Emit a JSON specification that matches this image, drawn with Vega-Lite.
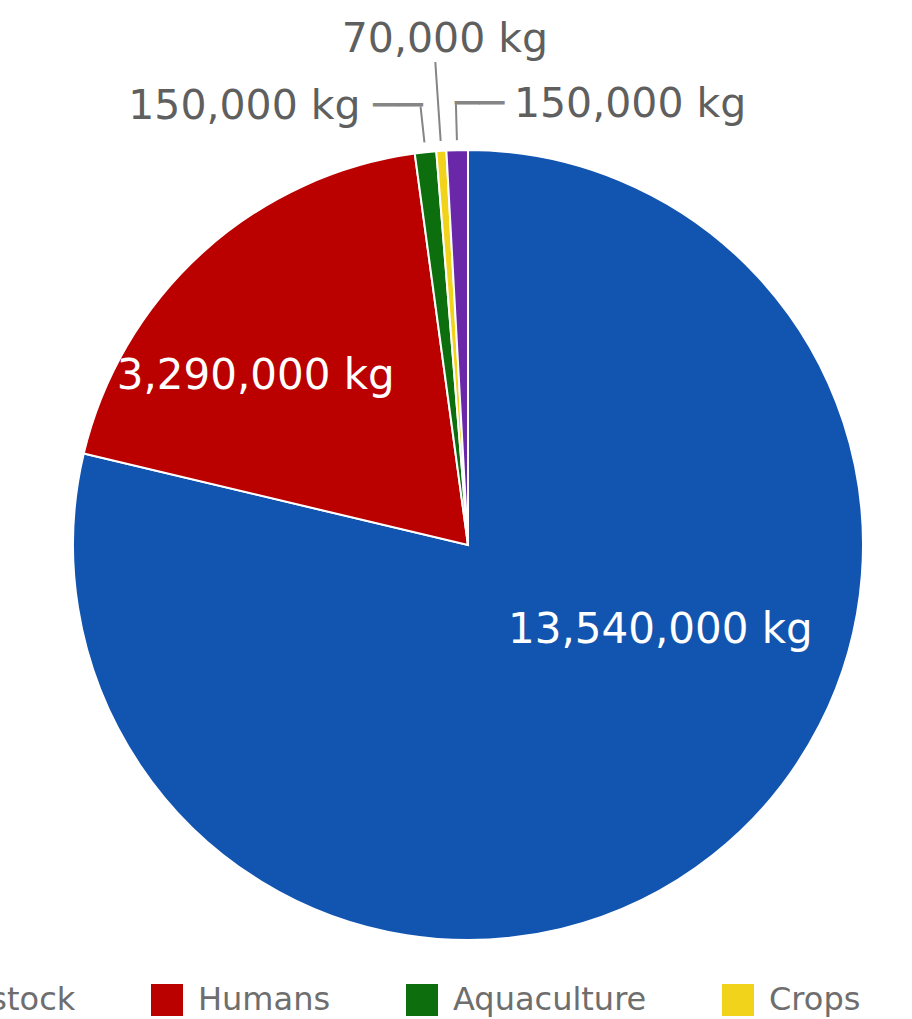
{
  "$schema": "https://vega.github.io/schema/vega-lite/v6.json",
  "width": 888,
  "height": 948,
  "autosize": {"type": "none"},
  "padding": {"left": 24, "top": 71, "right": 0, "bottom": 0},
  "background": "white",
  "config": {"view": {"stroke": null}, "font": "DejaVu Sans"},
  "data": {
    "values": [
      {"category": "Livestock", "kg": 13540000, "rank": 1, "label": "13,540,000 kg"},
      {"category": "Humans", "kg": 3290000, "rank": 2, "label": "3,290,000 kg"},
      {"category": "Aquaculture", "kg": 150000, "rank": 3, "label": "150,000 kg"},
      {"category": "Crops", "kg": 70000, "rank": 4, "label": "70,000 kg"},
      {"category": "Pets", "kg": 150000, "rank": 5, "label": "150,000 kg"}
    ]
  },
  "encoding": {
    "theta": {"field": "kg", "type": "quantitative", "stack": true},
    "order": {"field": "rank", "type": "quantitative", "sort": "ascending"}
  },
  "layer": [
    {
      "mark": {"type": "arc", "outerRadius": 395, "stroke": "white", "strokeWidth": 2},
      "encoding": {
        "color": {
          "field": "category",
          "type": "nominal",
          "scale": {
            "domain": ["Livestock", "Humans", "Aquaculture", "Crops", "Pets"],
            "range": ["#1255b0", "#bb0000", "#0d6e0d", "#f2d31b", "#6a28a8"]
          },
          "legend": {
            "orient": "none",
            "direction": "horizontal",
            "legendX": -146,
            "legendY": 913,
            "title": null,
            "symbolType": "square",
            "symbolSize": 1024,
            "symbolStrokeWidth": 0,
            "symbolOpacity": 1,
            "labelFontSize": 32,
            "labelColor": "#6e6e6e",
            "labelFont": "DejaVu Sans",
            "labelOffset": 15,
            "columnPadding": 75,
            "labelLimit": 400,
            "padding": 0
          }
        }
      }
    },
    {
      "mark": {"type": "arc", "outerRadius": 441, "innerRadius": 405, "padAngle": 0.5, "fill": "transparent", "strokeWidth": 2},
      "encoding": {
        "stroke": {"condition": {"test": "datum.category === 'Aquaculture' || datum.category === 'Pets'", "value": "#858585"}, "value": "transparent"}
      }
    },
    {
      "mark": {"type": "arc", "outerRadius": 484, "innerRadius": 405, "padAngle": 0.5, "fill": "transparent", "strokeWidth": 2},
      "encoding": {
        "stroke": {"condition": {"test": "datum.category === 'Crops'", "value": "#858585"}, "value": "transparent"}
      }
    },
    {
      "mark": {"type": "text", "radius": 220, "dx": 56, "dy": -88, "align": "center", "baseline": "middle", "fontSize": 42, "color": "#ffffff"},
      "encoding": {"text": {"condition": {"test": "datum.category === 'Livestock'", "field": "label"}, "value": ""}}
    },
    {
      "mark": {"type": "text", "radius": 270, "dx": -31, "dy": 31, "align": "center", "baseline": "middle", "fontSize": 42, "color": "#ffffff"},
      "encoding": {"text": {"condition": {"test": "datum.category === 'Humans'", "field": "label"}, "value": ""}}
    },
    {
      "mark": {"type": "text", "radius": 441, "dx": -60, "dy": 0, "align": "right", "baseline": "middle", "fontSize": 41, "color": "#5f5f5f"},
      "encoding": {"text": {"condition": {"test": "datum.category === 'Aquaculture'", "field": "label"}, "value": ""}}
    },
    {
      "mark": {"type": "text", "radius": 441, "dx": 2, "dy": 0, "align": "right", "baseline": "middle", "fontSize": 41, "color": "#858585"},
      "encoding": {"text": {"condition": {"test": "datum.category === 'Aquaculture'", "value": "──"}, "value": ""}}
    },
    {
      "mark": {"type": "text", "radius": 505, "dx": 11, "dy": -1, "align": "center", "baseline": "middle", "fontSize": 41, "color": "#5f5f5f"},
      "encoding": {"text": {"condition": {"test": "datum.category === 'Crops'", "field": "label"}, "value": ""}}
    },
    {
      "mark": {"type": "text", "radius": 441, "dx": 58, "dy": 1, "align": "left", "baseline": "middle", "fontSize": 41, "color": "#5f5f5f"},
      "encoding": {"text": {"condition": {"test": "datum.category === 'Pets'", "field": "label"}, "value": ""}}
    },
    {
      "mark": {"type": "text", "radius": 441, "dx": -1, "dy": 1, "align": "left", "baseline": "middle", "fontSize": 41, "color": "#858585"},
      "encoding": {"text": {"condition": {"test": "datum.category === 'Pets'", "value": "──"}, "value": ""}}
    }
  ]
}
